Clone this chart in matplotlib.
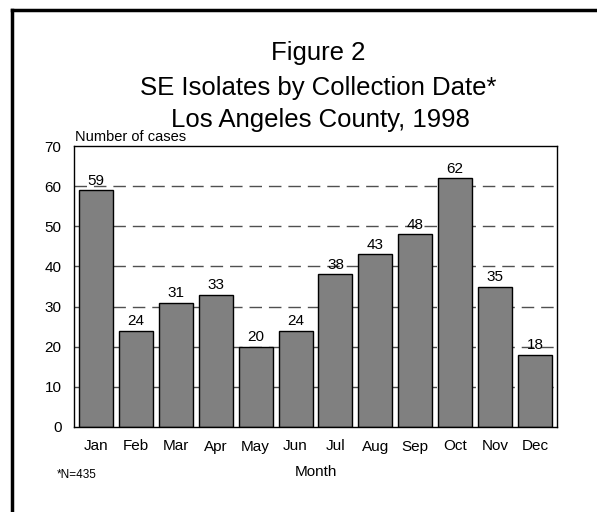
import matplotlib
matplotlib.use('Agg')
import matplotlib.pyplot as plt
from matplotlib.lines import Line2D

plt.rcParams['font.family'] = ['Liberation Sans', 'DejaVu Sans']

months = ['Jan', 'Feb', 'Mar', 'Apr', 'May', 'Jun',
          'Jul', 'Aug', 'Sep', 'Oct', 'Nov', 'Dec']
cases = [59, 24, 31, 33, 20, 24, 38, 43, 48, 62, 35, 18]
yticks = [0, 10, 20, 30, 40, 50, 60, 70]

W, H = 597, 512
fig = plt.figure(figsize=(W / 100, H / 100), dpi=100)

# frame around the figure (only left and top show in the picture)
fig.add_artist(Line2D([12 / W, 12 / W], [0, 1 - 10 / H], color='black', lw=2.5,
                      transform=fig.transFigure))
fig.add_artist(Line2D([12 / W, 1], [1 - 10 / H, 1 - 10 / H], color='black', lw=2.5,
                      transform=fig.transFigure))

ax = fig.add_axes([74 / W, (H - 427) / H, 483 / W, 281 / H])
x = range(len(months))
ax.bar(x, cases, width=0.85, color='#808080', edgecolor='black', linewidth=1, zorder=2)

for i, v in enumerate(cases):
    ax.text(i, v + 0.6, str(v), ha='center', va='bottom', fontsize=11, zorder=3)

ax.set_xlim(-0.55, 11.55)
ax.set_ylim(0, 70)
ax.set_yticks(yticks)
ax.set_xticks(list(x))
ax.set_xticklabels(months)
ax.tick_params(axis='both', length=0, labelsize=11)
ax.tick_params(axis='y', pad=9)
ax.tick_params(axis='x', pad=9)
for yv in yticks[1:-1]:
    ax.axhline(yv, color='#505050', lw=1, dashes=(9, 5), zorder=1)
for s in ax.spines.values():
    s.set_linewidth(1)

ax.set_xlabel('Month', fontsize=11, labelpad=8)

fig.text(318 / W, 1 - 60 / H, 'Figure 2', ha='center', va='baseline', fontsize=18.5)
fig.text(318 / W, 1 - 95 / H, 'SE Isolates by Collection Date*', ha='center',
         va='baseline', fontsize=18.5)
fig.text(320 / W, 1 - 127 / H, 'Los Angeles County, 1998', ha='center',
         va='baseline', fontsize=18.5)
fig.text(75 / W, 1 - 141 / H, 'Number of cases', ha='left', va='baseline', fontsize=10.5)
fig.text(57 / W, 1 - 478 / H, '*N=435', ha='left', va='baseline', fontsize=8.5)

fig.savefig('out.png', dpi=100)
